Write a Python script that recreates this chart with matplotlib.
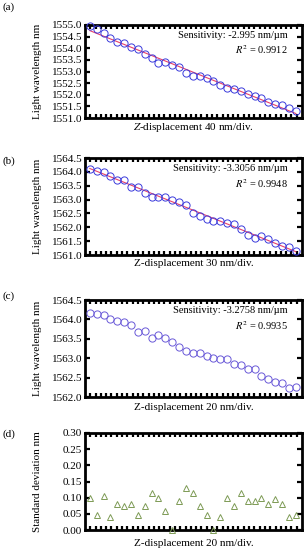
import numpy as np
import matplotlib
matplotlib.use("Agg")
import matplotlib.pyplot as plt
from matplotlib.ticker import FixedLocator, FormatStrFormatter

plt.rcParams["font.family"] = ["Liberation Serif", "DejaVu Serif"]
plt.rcParams["mathtext.fontset"] = "stix"

step = np.arange(31)

wl_a = [1554.96, 1554.81, 1554.67, 1554.46, 1554.26, 1554.23, 1554.04, 1553.96,
        1553.74, 1553.57, 1553.37, 1553.39, 1553.26, 1553.21, 1552.93, 1552.79,
        1552.79, 1552.70, 1552.57, 1552.41, 1552.30, 1552.24, 1552.17, 1552.04,
        1551.94, 1551.84, 1551.69, 1551.60, 1551.57, 1551.43, 1551.30]
wl_b = [1564.10, 1564.04, 1563.98, 1563.85, 1563.72, 1563.69, 1563.47, 1563.47,
        1563.23, 1563.11, 1563.11, 1563.11, 1563.00, 1562.92, 1562.80, 1562.52,
        1562.41, 1562.29, 1562.23, 1562.21, 1562.17, 1562.11, 1561.93, 1561.73,
        1561.63, 1561.67, 1561.56, 1561.42, 1561.34, 1561.28, 1561.16]
wl_c = [1564.17, 1564.15, 1564.12, 1564.00, 1563.96, 1563.94, 1563.85, 1563.67,
        1563.69, 1563.53, 1563.59, 1563.51, 1563.41, 1563.30, 1563.18, 1563.13,
        1563.14, 1563.05, 1563.00, 1562.98, 1562.97, 1562.86, 1562.82, 1562.72,
        1562.72, 1562.55, 1562.47, 1562.39, 1562.37, 1562.22, 1562.25]
std_d = [0.100, 0.045, 0.105, 0.040, 0.080, 0.075, 0.080, 0.045, 0.075, 0.115,
         0.100, 0.060, 0.000, 0.090, 0.130, 0.115, 0.075, 0.045, 0.000, 0.040,
         0.100, 0.075, 0.115, 0.090, 0.090, 0.100, 0.080, 0.095, 0.080, 0.040,
         0.045]

sens = ["-2.995", "-3.3056", "-3.2758"]
r2 = ["0.9912", "0.9948", "0.9935"]
xlabels = ["$\\mathit{Z}$-displacement 40 nm/div.", "Z-displacement 30 nm/div.",
           "Z-displacement 20 nm/div.", "Z-displacement 20 nm/div."]
ylims = [(1551.0, 1555.0), (1561.0, 1564.5), (1562.0, 1564.5), (0.0, 0.30)]
yticks = [np.arange(1551.0, 1555.01, 0.5), np.arange(1561.0, 1564.51, 0.5),
          np.arange(1562.0, 1564.51, 0.5), np.arange(0.0, 0.301, 0.05)]
letters = ["(a)", "(b)", "(c)", "(d)"]

# axes boxes in pixels: top, bottom
W, H = 307, 550
boxes = [(25, 118), (158, 255), (300, 397), (433, 530)]
xl_y = [128, 263, 408, 543]
letter_y = [7, 161, 296, 434]
left, right = 85, 302

fig = plt.figure(figsize=(W / 100, H / 100), dpi=100)
circ_colors = ["#3c3cdc", "#3c3cdc", "#6a5ad8"]

for i, (top, bot) in enumerate(boxes):
    ax = fig.add_axes([left / W, 1 - bot / H, (right - left) / W, (bot - top) / H])
    if i < 3:
        y = [wl_a, wl_b, wl_c][i]
        ax.plot(step, y, "o", mfc="none", mec=circ_colors[i], ms=5.2, mew=0.7,
                clip_on=False, zorder=3)
        if i < 2:
            k, b = np.polyfit(step, y, 1)
            ax.plot(step, k * step + b, color="#e8406a", lw=0.8, zorder=2)
        ax.text(0.935, 0.89, f"Sensitivity: {sens[i]} nm/\u00b5m", transform=ax.transAxes,
                ha="right", va="center", fontsize=7.5)
        ax.text(0.935, 0.74, f"$R^2$ = {r2[i]}", transform=ax.transAxes,
                ha="right", va="center", fontsize=7.5)
        ax.set_ylabel("Light wavelength nm", fontsize=8)
        ax.yaxis.set_major_formatter(FormatStrFormatter("%.1f"))
    else:
        ax.plot(step, std_d, "^", mfc="none", mec="#7d9a55", ms=4.6, mew=0.7,
                clip_on=False, zorder=3)
        ax.set_ylabel("Standard deviation nm", fontsize=8)
        ax.yaxis.set_major_formatter(FormatStrFormatter("%.2f"))
    ax.set_xlim(-0.7, 30.9)
    ax.set_ylim(*ylims[i])
    ax.yaxis.set_major_locator(FixedLocator(yticks[i]))
    ax.xaxis.set_major_locator(FixedLocator(np.linspace(-0.7, 30.9, 42)[1:-1]))
    ax.tick_params(axis="x", direction="in", top=True, bottom=True, labelbottom=False,
                   length=3, width=1.6)
    ax.tick_params(axis="y", direction="in", left=True, right=True, length=3.5,
                   width=1.6, labelsize=8, pad=2)
    for s in ax.spines.values():
        s.set_linewidth(2.0)
    ax.yaxis.set_label_coords(-0.2, 0.5)
    fig.text((left + right) / 2 / W, 1 - xl_y[i] / H, xlabels[i], ha="center",
             va="center", fontsize=8)
    fig.text(3 / W, 1 - letter_y[i] / H, letters[i], ha="left", va="center", fontsize=8)

fig.savefig("out.png", dpi=100)
